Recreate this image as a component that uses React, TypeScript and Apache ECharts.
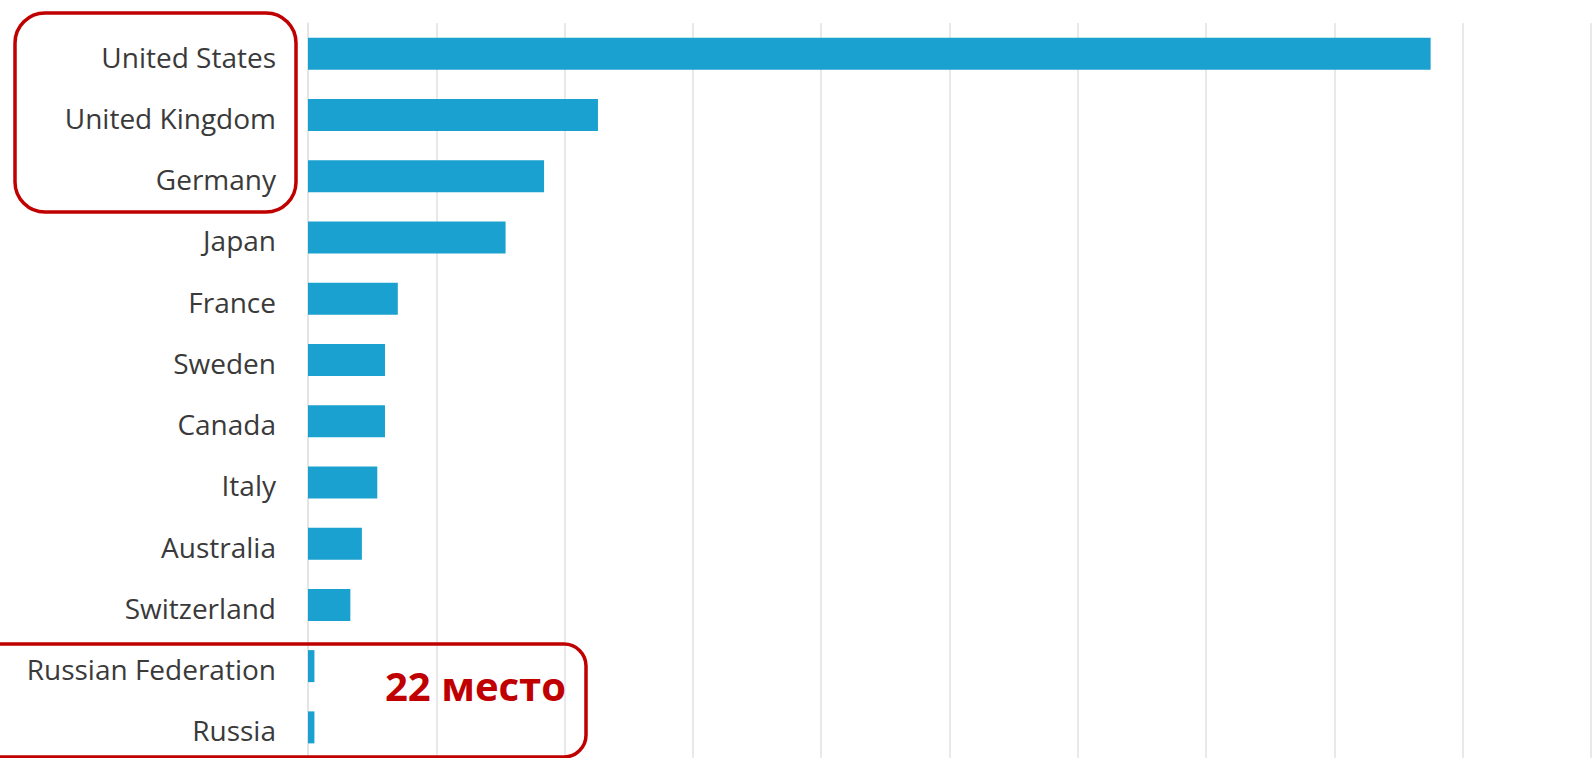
import React, { useEffect, useRef } from "react";
import * as echarts from "echarts";

const countries = [
  "United States",
  "United Kingdom",
  "Germany",
  "Japan",
  "France",
  "Sweden",
  "Canada",
  "Italy",
  "Australia",
  "Switzerland",
  "Russian Federation",
  "Russia",
];
const values = [875, 226, 184, 154, 70, 60, 60, 54, 42, 33, 5, 5];
const rankNote = "22 место";

export default function App() {
  const ref = useRef<HTMLDivElement>(null);
  useEffect(() => {
    document.body.style.margin = "0";
    document.body.style.overflow = "hidden";
    const chart = echarts.init(ref.current!, null, { renderer: "svg" });
    chart.setOption({
      animation: false,
      backgroundColor: "#ffffff",
      grid: { left: 308, right: 5, top: 23, bottom: -3, containLabel: false },
      xAxis: {
        type: "value",
        min: 0,
        max: 1000,
        interval: 100,
        axisLabel: { show: false },
        axisTick: { show: false },
        axisLine: { show: false },
        splitLine: { show: true, lineStyle: { color: "#e2e2e2", width: 1.5 } },
      },
      yAxis: {
        type: "category",
        inverse: true,
        data: countries,
        axisTick: { show: false },
        axisLine: { show: true, lineStyle: { color: "#e2e2e2", width: 1.5 } },
        axisLabel: {
          margin: 32,
          fontFamily: "Open Sans",
          fontSize: 28,
          color: "#3a3a3a",
          verticalAlign: "top",
          lineHeight: 6,
        },
      },
      series: [
        {
          type: "bar",
          data: values,
          barWidth: 32,
          itemStyle: { color: "#1aa1cf" },
        },
      ],
      graphic: [
        {
          type: "rect",
          shape: { x: 15, y: 13, width: 281, height: 199, r: 30 },
          style: { fill: "none", stroke: "#c00000", lineWidth: 3.5 },
          z: 100,
        },
        {
          type: "rect",
          shape: { x: -20, y: 644, width: 606, height: 113, r: 22 },
          style: { fill: "none", stroke: "#c00000", lineWidth: 3.5 },
          z: 100,
        },
        {
          type: "text",
          x: 385,
          y: 685,
          style: {
            text: rankNote,
            fill: "#c00000",
            font: "bold 40px 'Open Sans'",
            textAlign: "left",
            textVerticalAlign: "middle",
          },
          z: 100,
        },
      ],
    });
    return () => chart.dispose();
  }, []);
  return <div ref={ref} style={{ width: 1596, height: 758 }} />;
}
